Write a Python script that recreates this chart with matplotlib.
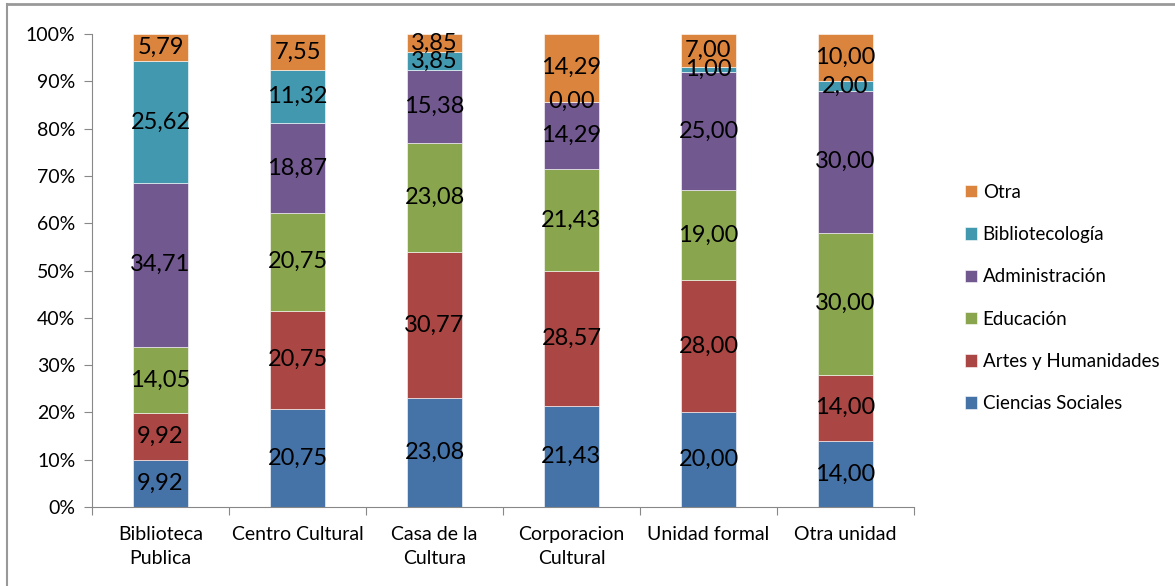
import matplotlib
matplotlib.use("Agg")
import matplotlib.pyplot as plt
import numpy as np
from matplotlib.lines import Line2D

plt.rcParams['font.family'] = ['Lato', 'DejaVu Sans']

categories = ["Biblioteca\nPublica", "Centro Cultural", "Casa de la\nCultura",
              "Corporacion\nCultural", "Unidad formal", "Otra unidad"]
series = ["Ciencias Sociales", "Artes y Humanidades", "Educación",
          "Administración", "Bibliotecología", "Otra"]
ciencias_sociales = [9.92, 20.75, 23.08, 21.43, 20.00, 14.00]
artes_humanidades = [9.92, 20.75, 30.77, 28.57, 28.00, 14.00]
educacion = [14.05, 20.75, 23.08, 21.43, 19.00, 30.00]
administracion = [34.71, 18.87, 15.38, 14.29, 25.00, 30.00]
bibliotecologia = [25.62, 11.32, 3.85, 0.00, 1.00, 2.00]
otra = [5.79, 7.55, 3.85, 14.29, 7.00, 10.00]
colors = ["#4572A7", "#AA4643", "#89A54E", "#71588F", "#4198AF", "#DB843D"]

values = np.array([ciencias_sociales, artes_humanidades, educacion,
                   administracion, bibliotecologia, otra])
# normalise to 100% like the excel chart
shares = values / values.sum(axis=0) * 100

fig = plt.figure(figsize=(11.75, 5.86), dpi=100)
ax = fig.add_axes([92/1175, 1-507/586, (914-92)/1175, (507-34)/586])

x = np.arange(len(categories))
bottom = np.zeros(len(categories))
for i, name in enumerate(series):
    bars = ax.bar(x, shares[i], 0.4, bottom=bottom, color=colors[i],
                  edgecolor="white", linewidth=0.4, label=name)
    for j, b in enumerate(bars):
        txt = ("%.2f" % values[i][j]).replace(".", ",")
        ax.text(x[j], bottom[j] + shares[i][j] / 2, txt, ha="center",
                va="center", fontsize=17, color="black")
    bottom += shares[i]

ax.set_xlim(-0.5, len(categories) - 0.5)
ax.set_ylim(0, 100)
ax.set_yticks(np.arange(0, 101, 10))
ax.set_yticklabels(["%d%%" % v for v in range(0, 101, 10)], fontsize=14)
ax.set_xticks(np.arange(-0.5, len(categories), 1))
ax.set_xticklabels([])
ax.set_xticks(x, minor=True)
ax.set_xticklabels(categories, minor=True, fontsize=14, linespacing=1.5)
ax.tick_params(axis="x", which="minor", length=0, pad=14)
ax.tick_params(axis="x", which="major", length=6, color="#888888")
ax.tick_params(axis="y", length=6, color="#888888", pad=6)
for s in ["top", "right"]:
    ax.spines[s].set_visible(False)
for s in ["left", "bottom"]:
    ax.spines[s].set_color("#888888")

h, l = ax.get_legend_handles_labels()
leg = fig.legend(h[::-1], l[::-1], loc="center left",
                 bbox_to_anchor=(948/1175, 1-298/586), frameon=False,
                 fontsize=13.5, handlelength=0.65, handleheight=0.65,
                 handletextpad=0.3, labelspacing=1.35)

# outer frame (top and left edges visible)
fig.add_artist(Line2D([7/1175, 1], [1-4/586, 1-4/586], color="#999999", lw=2))
fig.add_artist(Line2D([7/1175, 7/1175], [0, 1-4/586], color="#999999", lw=1.5))

fig.savefig("out.png", dpi=100)
